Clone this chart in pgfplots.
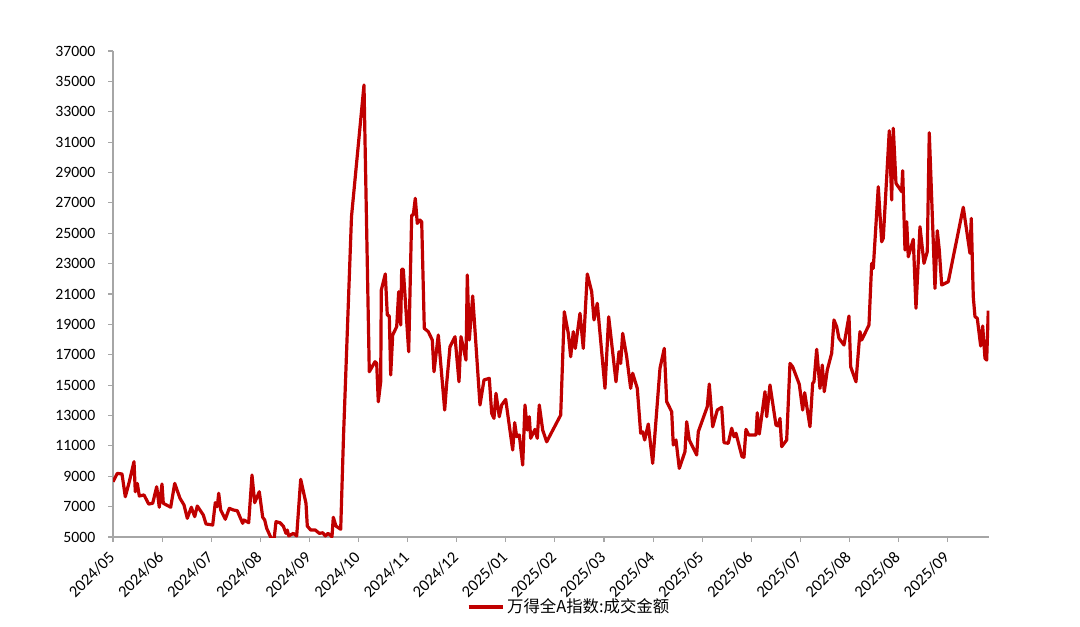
\documentclass[border=0pt]{standalone}
\usepackage{pgfplots}
\pgfplotsset{compat=1.18}
\usepackage{fontspec}
\setmainfont{Carlito}
\newfontfamily\cjk{Noto Sans CJK SC}
\definecolor{axgray}{RGB}{166,166,166}
\definecolor{linered}{RGB}{192,0,0}
\begin{document}
\begin{tikzpicture}
\path[use as bounding box] (-84.75pt,-66.75pt) rectangle (725.25pt,402.75pt);
\begin{axis}[
  at={(0,0)}, anchor=south west,
  scale only axis, width=657.2pt, height=364.5pt,
  xmin=0, xmax=876.3, ymin=5000, ymax=37000,
  axis x line=bottom, axis y line=left,
  axis line style={-, draw=axgray, line width=0.8pt},
  tick style={draw=axgray, line width=0.8pt},
  tick align=outside, major tick length=3.75pt,
  ytick={5000,7000,...,37000},
  xtick={0,49.1,98.2,147.3,196.4,245.5,294.6,343.7,392.8,441.9,491,540.1,589.2,638.3,687.4,736.5,785.6,834.7},
  xticklabels={2024/05,2024/06,2024/07,2024/08,2024/09,2024/10,2024/11,2024/12,2025/01,2025/02,2025/03,2025/04,2025/05,2025/06,2025/07,2025/08,2025/08,2025/09},
  xticklabel style={xshift=1.5pt, yshift=-7pt, rotate=45, anchor=east, font=\fontsize{12.4}{14}\selectfont},
  yticklabel style={xshift=-6pt, font=\fontsize{11.8}{14}\selectfont},
  /pgf/number format/assume math mode=true,
  /pgf/number format/set thousands separator={},
  scaled y ticks=false,
  legend style={at={(axis description cs:0.521,-0.144)}, anchor=center, draw=none, fill=none,
    font=\cjk\fontsize{12.3}{14}\selectfont, inner sep=0pt},
  legend image code/.code={\draw[#1] (0cm,0cm) -- (0.9cm,0cm);},
]
\addplot[linered, line width=2.4pt, line join=round] coordinates {
(0,8640)(4.3,9190)(9,9150)(12.3,7650)(16.3,8640)(21,9960)(22.3,7980)(24.3,8530)(26.3,7700)(31,7770)
(35.7,7170)(39.7,7220)(43.7,8310)(46.3,6960)(49,8490)(50.3,7220)(57.7,6960)(61.7,8530)(67,7550)(71,7110)
(74.3,6230)(78.3,6960)(81.7,6340)(84.3,7040)(90.3,6450)(93,5860)(99.7,5790)(102.3,7260)(104.3,7000)(105.7,7880)
(107.7,6780)(112.3,6170)(116.3,6890)(120.3,6780)(124.3,6730)(129.7,5900)(131,6120)(135.7,5940)(139,9080)(141.7,7260)
(146.3,7980)(149.7,6300)(151.7,6120)(153.7,5570)(158.3,4900)(161,4800)(163,6010)(167,5940)(170.3,5720)(173,5240)
(174.3,5460)(175.7,5070)(180.3,5240)(183.7,5070)(187.7,8800)(193,7220)(194.3,5720)(197.7,5460)(202.3,5460)(206.3,5240)
(209.7,5280)(212.3,5070)(215,5240)(219,5020)(220.3,6300)(223,5720)(227.7,5510)(230.5,11600)(238.5,26090)(251,34760)
(256.3,15880)(262,16540)(263.7,16430)(265.3,13900)(267.7,15220)(268.3,21260)(272.3,22320)(274.3,19620)(276.3,19550)(277.7,15670)
(279.7,18300)(283.7,18850)(285.7,21150)(287.7,18960)(288.7,22630)(290.3,22630)(295.7,17200)(298.7,26200)(300.3,26200)(302.3,27300)
(304.3,25650)(307,25870)(308.7,25760)(311.3,18740)(315.3,18520)(319.3,17970)(321,15880)(325.3,18300)(331.7,13360)(333.7,15120)
(337,17530)(342,18190)(346,15220)(348,18190)(353,16650)(354.3,22250)(356.3,17970)(359.7,20870)(367,13690)(371,15340)
(376.3,15450)(378.7,13140)(381,12810)(383,14460)(386.3,12920)(388.7,13690)(392.7,14060)(399.7,10730)(401.7,12530)(403.7,11600)
(406.3,11720)(409.7,9740)(412,13690)(414.3,12040)(416.3,12920)(417.7,11500)(422,12090)(424.3,11500)(426.3,13690)(429.7,12040)
(433.7,11270)(447.7,13030)(451.3,19830)(455.3,18410)(457.7,16870)(460.3,18520)(462.3,17420)(467,19730)(470.3,17420)(474.3,22320)
(478.7,21150)(481,19290)(484.3,20390)(492,14790)(495.7,19500)(503,15220)(506,17200)(507.7,16430)(509.7,18410)(513.7,16870)
(517.7,14790)(519.7,15780)(524.3,14790)(527.7,11830)(529.7,11930)(531.7,11390)(535.3,12440)(539.7,9850)(547,16110)(551.3,17420)
(553.7,13910)(558.7,13250)(560.3,11060)(563,11390)(566.3,9520)(572,10620)(573.7,12590)(576.3,11390)(583.7,10400)(585.3,11930)
(594.3,13580)(596.3,15070)(599.7,12260)(604.3,13360)(608.7,13540)(611,11210)(615.3,11170)(618.7,12160)(621,11600)(623,11830)
(629,10290)(631,10250)(633,12090)(635.7,11720)(643,11720)(644.3,13180)(646.3,11780)(652,14570)(653.7,12920)(657,15010)
(663,12370)(665.3,12310)(667,12810)(668.7,10950)(673.7,11390)(677,16430)(679.7,16210)(686.3,15060)(689.7,13360)(691.7,14500)
(697,12260)(699.7,15120)(701,15220)(703.7,17360)(707,14790)(709.3,16320)(711.3,14570)(714.3,16000)(718.7,17100)(721,19290)
(723.7,18850)(726,18080)(731,17640)(736,19550)(737.7,16210)(743,15220)(747,18520)(748.7,17970)(756,18960)(758.7,23020)
(760.3,22690)(765.3,28060)(768.7,24440)(770.3,24670)(776.3,31750)(778.7,27190)(780.3,31910)(783,28290)(788.7,27740)(789.7,29120)
(792,23900)(793.7,25760)(795.3,23450)(800.3,24600)(803,20060)(807,25430)(811,23020)(814.3,23780)(816.3,31620)(822,21370)
(824.3,25170)(826.3,23900)(828.7,21590)(835.3,21810)(850.3,26710)(857,23680)(858.3,25980)(860.3,20820)(862,19510)(864.3,19400)
(867.7,17580)(869.7,18890)(872,16770)(873.7,16650)(875.3,19900)
};
\addlegendentry{万得全A指数:成交金额}
\end{axis}
\end{tikzpicture}
\end{document}
